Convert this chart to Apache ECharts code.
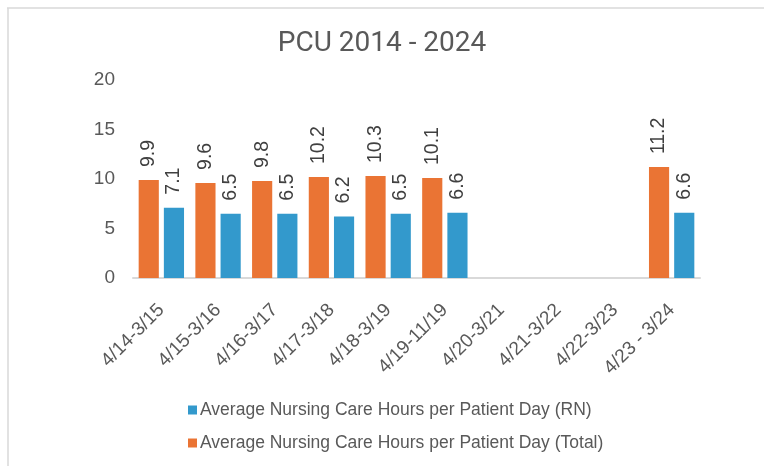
<!DOCTYPE html>
<html>
<head>
<meta charset="utf-8">
<script src="https://cdn.jsdelivr.net/npm/echarts@6/dist/echarts.min.js"></script>
<style>
	html, body {margin: 0; padding: 0; background: #fff;}
	#chart {width: 764px; height: 466px;}
</style>
</head>
<body>
<div id="chart"></div>
<script>
//	data
var categories = ['4/14-3/15', '4/15-3/16', '4/16-3/17', '4/17-3/18', '4/18-3/19',
	'4/19-11/19', '4/20-3/21', '4/21-3/22', '4/22-3/23', '4/23 - 3/24'];
var totalHours = [9.9, 9.6, 9.8, 10.2, 10.3, 10.1, null, null, null, 11.2];
var rnHours = [7.1, 6.5, 6.5, 6.2, 6.5, 6.6, null, null, null, 6.6];
var yTicks = [0, 5, 10, 15, 20];

var nameRN = 'Average Nursing Care Hours per Patient Day (RN)',
	nameTotal = 'Average Nursing Care Hours per Patient Day (Total)';

var font = 'Liberation Sans';
var labelStyle = {
	show: true,
	position: 'top',
	rotate: 90,
	distance: 13,
	align: 'left',
	verticalAlign: 'middle',
	fontFamily: font,
	fontSize: 19.5,
	color: '#404040'
};

var myChart = echarts.init(document.getElementById('chart'));

var option = {
	backgroundColor: '#fff',
	animation: false,
	title: {
		text: 'PCU 2014 - 2024',
		left: 'center',
		top: 25,
		textStyle: {fontFamily: 'Roboto', fontSize: 28, fontWeight: 'normal', color: '#595959'}
	},
	legend: {
		orient: 'vertical',
		left: 183,
		top: 396,
		itemWidth: 9,
		itemHeight: 9,
		itemGap: 15,
		icon: 'rect',
		data: [nameRN, nameTotal],
		textStyle: {fontFamily: font, fontSize: 17.5, color: '#595959', padding: [0, 0, 0, -2]}
	},
	grid: {
		left: 133,
		right: 64,
		top: 80,
		bottom: 188
	},
	xAxis: {
		type: 'category',
		data: categories,
		axisLine: {lineStyle: {color: '#d9d9d9', width: 2}},
		axisTick: {show: false},
		axisLabel: {
			rotate: 45,
			interval: 0,
			margin: 29,
			fontFamily: font,
			fontSize: 19,
			color: '#595959'
		}
	},
	yAxis: {
		type: 'value',
		min: yTicks[0],
		max: yTicks[yTicks.length - 1],
		interval: 5,
		axisLine: {show: false},
		axisTick: {show: false},
		splitLine: {show: false},
		axisLabel: {fontFamily: font, fontSize: 19, color: '#595959', margin: 18}
	},
	series: [
		{
			name: nameTotal,
			type: 'bar',
			data: totalHours,
			barGap: '25%',
			barCategoryGap: '20%',
			itemStyle: {color: '#ea7434'},
			label: labelStyle
		},
		{
			name: nameRN,
			type: 'bar',
			data: rnHours,
			itemStyle: {color: '#3399cc'},
			label: labelStyle
		}
	],
	graphic: [
		{type: 'line', shape: {x1: 7, y1: 8, x2: 764, y2: 8}, style: {stroke: '#d9d9d9', lineWidth: 1.5}},
		{type: 'line', shape: {x1: 8, y1: 8, x2: 8, y2: 466}, style: {stroke: '#d9d9d9', lineWidth: 1.5}}
	]
};

myChart.setOption(option);
</script>
</body>
</html>
